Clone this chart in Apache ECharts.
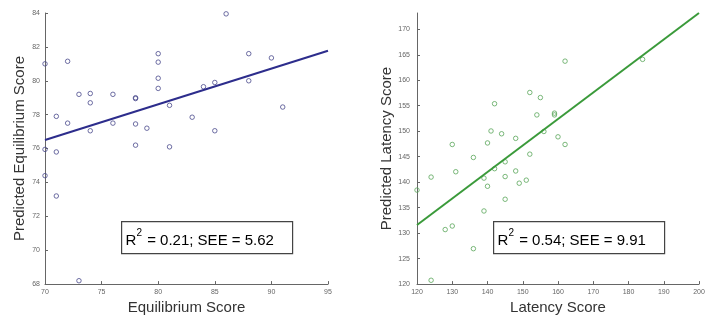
<!DOCTYPE html>
<html>
<head>
<meta charset="utf-8">
<script src="https://cdn.jsdelivr.net/npm/echarts@6/dist/echarts.min.js"></script>
<style>
html,body{margin:0;padding:0;background:#fff;}
#chart{width:714px;height:320px;}
</style>
</head>
<body>
<div id="chart"></div>
<script>
// ---- Left panel: Equilibrium ----
const eqX = [70,72,71,72,73,74,74,74,76,76,78,78,78,78,79,80,80,80,80,81,81,83,84,85,85,86,88,88,90,91,70,71,70,71,73];
const eqY = [81.0,81.15,77.9,77.5,79.2,79.25,78.7,77.05,79.2,77.5,79.0,78.95,77.45,76.2,77.2,81.6,81.1,80.15,79.55,78.55,76.1,77.85,79.65,79.9,77.05,83.95,81.6,80.0,81.35,78.45,75.95,75.8,74.4,73.2,68.2];
const eqFitX = [70, 95];
const eqFitY = [76.5, 81.77];
const eqXTicks = [70,75,80,85,90,95];
const eqYTicks = [68,70,72,74,76,78,80,82,84];
const eqLabel = ['R', '2', ' = 0.21; SEE = 5.62'];

// ---- Right panel: Latency ----
const latX = [130,136,140,141,142,144,148,152,152,154,155,156,159,159,160,162,162,184,120,124,124,128,130,131,136,139,139,140,142,145,145,145,148,149,151];
const latY = [147.4,144.85,147.7,150.05,155.4,149.5,148.6,157.6,145.5,153.2,156.6,149.95,153.55,153.2,148.9,163.75,147.4,164.1,138.45,141.0,120.75,130.7,131.4,142.05,126.95,140.8,134.35,139.2,142.65,144.0,141.1,136.65,142.2,139.8,140.4];
const latFitX = [120, 200];
const latFitY = [131.6, 173.2];
const latXTicks = [120,130,140,150,160,170,180,190,200];
const latYTicks = [120,125,130,135,140,145,150,155,160,165,170];
const latLabel = ['R', '2', ' = 0.54; SEE = 9.91'];

const FONT = 'Liberation Sans, Arial, Helvetica, sans-serif';
const zip = (a, b) => a.map((v, i) => [v, b[i]]);

function xAxisCfg(gi, min, max, ticks, name) {
  return {
    type: 'value', gridIndex: gi, min: min, max: max,
    name: name, nameLocation: 'middle', nameGap: 15,
    nameTextStyle: { fontFamily: FONT, fontSize: 15, color: '#333' },
    axisLine: { show: true, onZero: false, lineStyle: { color: '#666', width: 1 } },
    axisTick: { show: true, inside: true, length: 3, customValues: ticks, lineStyle: { color: '#666' } },
    axisLabel: { customValues: ticks, fontFamily: FONT, fontSize: 7, color: '#666', margin: 4 },
    splitLine: { show: false }
  };
}
function yAxisCfg(gi, min, max, ticks, name, gap, margin) {
  return {
    type: 'value', gridIndex: gi, min: min, max: max,
    name: name, nameLocation: 'middle', nameGap: gap,
    nameTextStyle: { fontFamily: FONT, fontSize: 15, color: '#333' },
    axisLine: { show: true, onZero: false, lineStyle: { color: '#666', width: 1 } },
    axisTick: { show: true, inside: true, length: 3, customValues: ticks, lineStyle: { color: '#666' } },
    axisLabel: { customValues: ticks, fontFamily: FONT, fontSize: 7, color: '#666', margin: margin },
    splitLine: { show: false }
  };
}
function labelBox(x, y, w, h, parts) {
  return {
    type: 'group', left: x, top: y,
    children: [
      { type: 'rect', shape: { x: 0, y: 0, width: w, height: h },
        style: { fill: '#fff', stroke: '#444', lineWidth: 1.2 } },
      { type: 'text', x: 4, y: h / 2 + 1,
        style: {
          text: '{r|' + parts[0] + '}{s|' + parts[1] + '}{r|' + parts[2] + '}',
          verticalAlign: 'middle',
          rich: {
            r: { fontFamily: FONT, fontSize: 15, color: '#111', lineHeight: 20, verticalAlign: 'bottom' },
            s: { fontFamily: FONT, fontSize: 10, color: '#111', lineHeight: 20, verticalAlign: 'top', padding: [0, 1, 3, 0] }
          }
        } }
    ]
  };
}

const chart = echarts.init(document.getElementById('chart'), null, { renderer: 'canvas' });
chart.setOption({
  animation: false,
  backgroundColor: '#fff',
  grid: [
    { left: 45, top: 13, width: 283, height: 276 },
    { left: 417, top: 13, width: 282, height: 275 }
  ],
  xAxis: [
    xAxisCfg(0, 70, 95, eqXTicks, 'Equilibrium Score'),
    xAxisCfg(1, 120, 200, latXTicks, 'Latency Score')
  ],
  yAxis: [
    yAxisCfg(0, 68, 84, eqYTicks, 'Predicted Equilibrium Score', 18, 5),
    yAxisCfg(1, 120, 173.2, latYTicks, 'Predicted Latency Score', 20, 7)
  ],
  series: [
    { type: 'scatter', xAxisIndex: 0, yAxisIndex: 0, data: zip(eqX, eqY),
      symbol: 'circle', symbolSize: 4.5,
      itemStyle: { color: 'transparent', borderColor: '#4a4a8c', borderWidth: 1 } },
    { type: 'line', xAxisIndex: 0, yAxisIndex: 0, data: zip(eqFitX, eqFitY),
      symbol: 'none', lineStyle: { color: '#2d2d8c', width: 2 } },
    { type: 'scatter', xAxisIndex: 1, yAxisIndex: 1, data: zip(latX, latY),
      symbol: 'circle', symbolSize: 4.5,
      itemStyle: { color: 'transparent', borderColor: '#5aa65a', borderWidth: 1 } },
    { type: 'line', xAxisIndex: 1, yAxisIndex: 1, data: zip(latFitX, latFitY),
      symbol: 'none', lineStyle: { color: '#3a9a3a', width: 2 } }
  ],
  graphic: [
    labelBox(121, 221, 171, 32, eqLabel),
    labelBox(493, 221, 171, 32, latLabel)
  ]
});
</script>
</body>
</html>
